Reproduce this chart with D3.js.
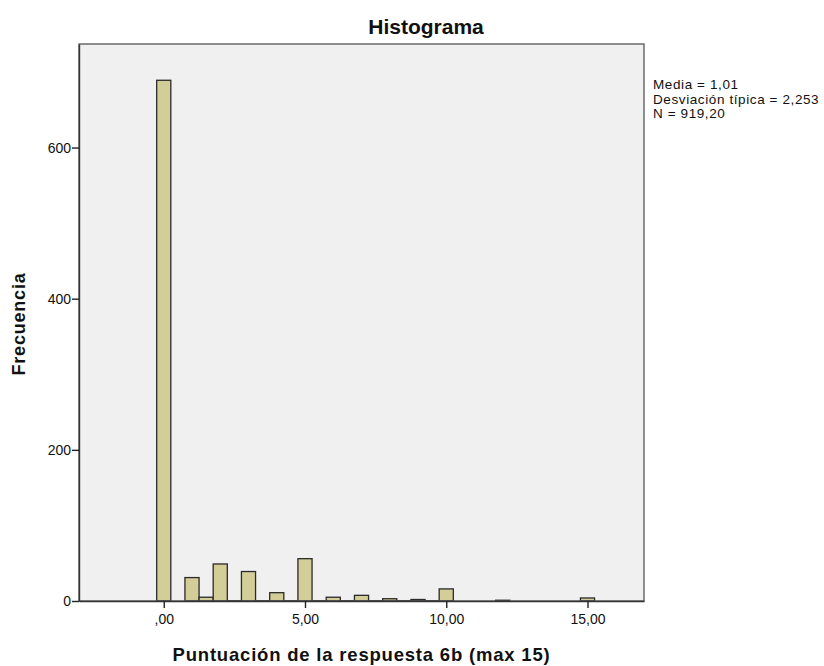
<!DOCTYPE html>
<html>
<head>
<meta charset="utf-8">
<script src="https://cdn.jsdelivr.net/npm/d3@7"></script>
<style>
  html, body { margin: 0; padding: 0; background: #ffffff; }
  svg { display: block; font-family: "Liberation Sans", Arial, sans-serif; }
</style>
</head>
<body>
<svg id="chart" width="824" height="666"></svg>
<script>
// ---- data ----
const binCenters  = [0, 1, 1.5, 2, 2.5, 3, 3.5, 4, 4.5, 5, 5.5, 6, 6.5, 7, 7.5, 8, 8.5, 9, 9.5, 10, 12, 15];
const frequencies = [689, 31, 5, 49, 0.3, 39, 0.3, 11, 0.3, 56, 0.3, 5, 0.3, 7.5, 0.3, 3, 0.3, 2, 0.3, 16, 1, 4];
const binWidth = 0.5;
const xTickValues = [0, 5, 10, 15];
const xTickLabels = [",00", "5,00", "10,00", "15,00"];
const yTickValues = [0, 200, 400, 600];
const yTickLabels = ["0", "200", "400", "600"];
const statsLines = ["Media = 1,01", "Desviación típica = 2,253", "N = 919,20"];
const titleText = "Histograma";
const xLabelText = "Puntuación de la respuesta 6b (max 15)";
const yLabelText = "Frecuencia";

// ---- layout ----
const plot = { left: 79, right: 644, top: 44, bottom: 601 };
const svg = d3.select("#chart");

const x = d3.scaleLinear().domain([-3, 17]).range([plot.left, plot.right]);
const y = d3.scaleLinear().domain([0, 737]).range([plot.bottom, plot.top]);

// background
svg.append("rect")
  .attr("x", plot.left).attr("y", plot.top)
  .attr("width", plot.right - plot.left).attr("height", plot.bottom - plot.top)
  .attr("fill", "#f0f0f0");

// bars
const bins = binCenters.map((c, i) => ({ c, f: frequencies[i] }));
svg.append("g").selectAll("rect").data(bins).join("rect")
  .attr("x", d => x(d.c - binWidth / 2))
  .attr("width", d => x(d.c + binWidth / 2) - x(d.c - binWidth / 2))
  .attr("y", d => y(d.f))
  .attr("height", d => Math.max(0, y(0) - y(d.f)))
  .attr("fill", "#d3ce97")
  .attr("stroke", "#2a2a2a")
  .attr("stroke-width", 1.3);

// frame
svg.append("rect")
  .attr("x", plot.left).attr("y", plot.top)
  .attr("width", plot.right - plot.left).attr("height", plot.bottom - plot.top)
  .attr("fill", "none").attr("stroke", "#555").attr("stroke-width", 1.3);

// axes
const yAxis = d3.axisLeft(y)
  .tickValues(yTickValues)
  .tickFormat((d, i) => yTickLabels[i])
  .tickSizeInner(7).tickSizeOuter(0).tickPadding(1);
const gy = svg.append("g").attr("transform", `translate(${plot.left},0)`).call(yAxis);
gy.select(".domain").attr("stroke", "#333").attr("stroke-width", 1.4);
gy.selectAll(".tick line").attr("stroke", "#222").attr("stroke-width", 1.4);
gy.selectAll(".tick text").attr("font-size", 14).attr("fill", "#111")
  .attr("font-family", "Liberation Sans, Arial, sans-serif");

const xAxis = d3.axisBottom(x)
  .tickValues(xTickValues)
  .tickFormat((d, i) => xTickLabels[i])
  .tickSizeInner(7).tickSizeOuter(0).tickPadding(6);
const gx = svg.append("g").attr("transform", `translate(0,${plot.bottom})`).call(xAxis);
gx.select(".domain").attr("stroke", "#333").attr("stroke-width", 1.4);
gx.selectAll(".tick line").attr("stroke", "#222").attr("stroke-width", 1.4);
gx.selectAll(".tick text").attr("font-size", 14).attr("fill", "#111")
  .attr("font-family", "Liberation Sans, Arial, sans-serif");

// title
svg.append("text")
  .attr("x", 426).attr("y", 34)
  .attr("text-anchor", "middle")
  .attr("font-size", 21).attr("font-weight", "bold").attr("fill", "#111")
  .text(titleText);

// x label
svg.append("text")
  .attr("x", (plot.left + plot.right) / 2).attr("y", 661)
  .attr("text-anchor", "middle")
  .attr("font-size", 18.5).attr("font-weight", "bold").attr("fill", "#111")
  .attr("letter-spacing", 0.8)
  .text(xLabelText);

// y label
svg.append("text")
  .attr("transform", `translate(25,${324}) rotate(-90)`)
  .attr("text-anchor", "middle")
  .attr("font-size", 18).attr("font-weight", "bold").attr("fill", "#111")
  .attr("letter-spacing", 0.8)
  .text(yLabelText);

// stats legend
svg.append("g").selectAll("text").data(statsLines).join("text")
  .attr("x", 653)
  .attr("y", (d, i) => 89 + i * 14.5)
  .attr("font-size", 13.5).attr("fill", "#111")
  .attr("letter-spacing", 0.6)
  .text(d => d);
</script>
</body>
</html>
